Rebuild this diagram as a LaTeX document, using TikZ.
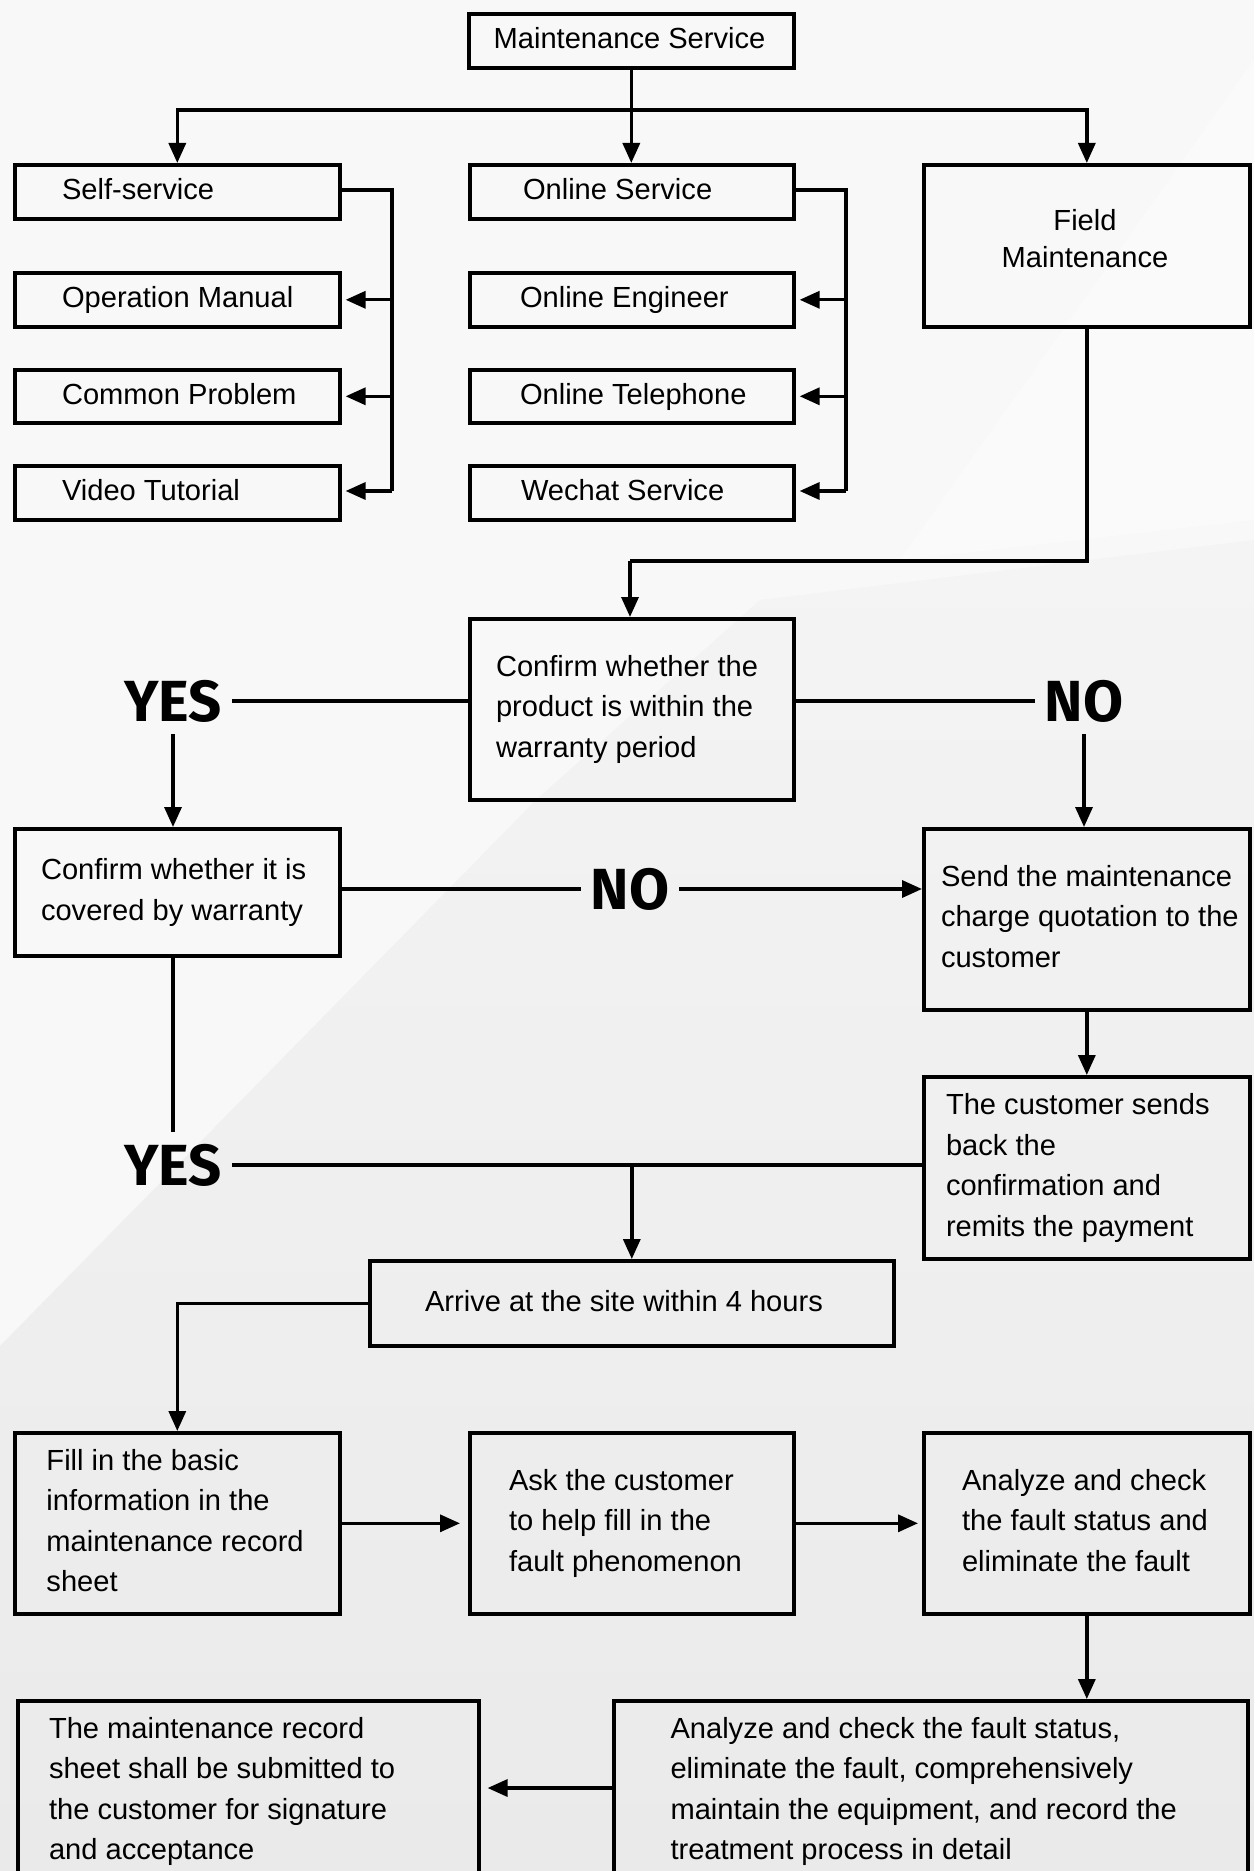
\documentclass[tikz,border=0pt]{standalone}
\usepackage{fontspec}
\setmainfont{Liberation Sans}
\newfontfamily\yesfont{Fira Sans}
\usetikzlibrary{arrows.meta,calc}
\definecolor{bgtop}{HTML}{F8F8F8}
\definecolor{bgmid}{HTML}{F4F4F4}
\definecolor{bgbot}{HTML}{EAEAEA}
\tikzset{
  box/.style={draw=black, line width=1.8pt, rectangle, inner sep=0pt, anchor=north west},
  txt/.style={inner sep=0pt, outer sep=0pt, align=left, font=\fontsize{14.55pt}{20.2pt}\selectfont},
  ftxt/.style={inner sep=0pt, outer sep=0pt, align=center, font=\fontsize{14.55pt}{18.5pt}\selectfont},
  lbl/.style={inner xsep=5pt, inner ysep=6pt, outer sep=0pt, font=\yesfont\bfseries\fontsize{29pt}{30pt}\selectfont},
  conn/.style={line width=1.7pt},
  arr/.style={conn, -{Triangle[length=10pt,width=8.5pt]}},
}
\begin{document}
\begin{tikzpicture}[x=0.5pt,y=-0.5pt]
\clip (0,0) rectangle (1254,1871);
% background
\fill[bgtop] (0,0) rectangle (1254,1871);
\shade[top color=bgmid, bottom color=bgbot] (0,1346) -- (536,800) -- (760,600) -- (1254,540) -- (1254,1871) -- (0,1871) -- cycle;
\fill[white, opacity=0.35] (1254,60) -- (1254,520) -- (900,560) -- cycle;

% boxes
\node[box, minimum width=162.5pt, minimum height=27pt] (ms) at (467,12) {};
\node[box, minimum width=162.5pt, minimum height=27pt] (ss) at (13,163) {};
\node[box, minimum width=162.5pt, minimum height=27pt] (om) at (13,271) {};
\node[box, minimum width=162.5pt, minimum height=26.5pt] (cp) at (13,368) {};
\node[box, minimum width=162.5pt, minimum height=27pt] (vt) at (13,464) {};
\node[box, minimum width=162pt, minimum height=27pt] (os) at (468,163) {};
\node[box, minimum width=162pt, minimum height=27pt] (oe) at (468,271) {};
\node[box, minimum width=162pt, minimum height=26.5pt] (ot) at (468,368) {};
\node[box, minimum width=162pt, minimum height=27pt] (ws) at (468,464) {};
\node[box, minimum width=163pt, minimum height=81pt] (fm) at (922,163) {};
\node[box, minimum width=162pt, minimum height=90.5pt] (cw) at (468,617) {};
\node[box, minimum width=162.5pt, minimum height=63.5pt] (cc) at (13,827) {};
\node[box, minimum width=163pt, minimum height=90.5pt] (sq) at (922,827) {};
\node[box, minimum width=163pt, minimum height=91pt] (cs) at (922,1075) {};
\node[box, minimum width=262pt, minimum height=42.5pt] (ar) at (368,1259) {};
\node[box, minimum width=162.5pt, minimum height=90.5pt] (fi) at (13,1431) {};
\node[box, minimum width=162pt, minimum height=90.5pt] (ask) at (468,1431) {};
\node[box, minimum width=163pt, minimum height=90.5pt] (an) at (922,1431) {};
\node[box, minimum width=230.5pt, minimum height=125pt] (bl) at (16,1699) {};
\node[box, minimum width=317pt, minimum height=125pt] (br) at (612,1699) {};

% texts
\node[txt, anchor=base] (msT) at (629.5,49) {Maintenance Service};
\node[txt, anchor=base west] (ssT) at (62,200) {Self-service};
\node[txt, anchor=base west] (omT) at (62,308) {Operation Manual};
\node[txt, anchor=base west] (cpT) at (62,405) {Common Problem};
\node[txt, anchor=base west] (vtT) at (62,501) {Video Tutorial};
\node[txt, anchor=base west] (osT) at (523,200) {Online Service};
\node[txt, anchor=base west] (oeT) at (520,308) {Online Engineer};
\node[txt, anchor=base west] (otT) at (520,405) {Online Telephone};
\node[txt, anchor=base west] (wsT) at (521,501) {Wechat Service};
\node[ftxt, anchor=north] (fmT) at (1085,204.6) {\strut Field\\Maintenance};
\node[txt, anchor=north west] (cwT) at (496,648.3) {\strut Confirm whether the\\product is within the\\warranty period};
\node[txt, anchor=north west] (ccT) at (41,851.5) {\strut Confirm whether it is\\covered by warranty};
\node[txt, anchor=north west] (sqT) at (941,858.3) {\strut Send the maintenance\\charge quotation to the\\customer};
\node[txt, anchor=north west] (csT) at (946,1086.6) {\strut The customer sends\\back the\\confirmation and\\remits the payment};
\node[txt, anchor=base west] (arT) at (425,1311) {Arrive at the site within 4 hours};
\node[txt, anchor=north west] (fiT) at (46.5,1442.1) {\strut Fill in the basic\\information in the\\maintenance record\\sheet};
\node[txt, anchor=north west] (askT) at (509,1462.3) {\strut Ask the customer\\to help fill in the\\fault phenomenon};
\node[txt, anchor=north west] (anT) at (962,1462.3) {\strut Analyze and check\\the fault status and\\eliminate the fault};
\node[txt, anchor=north west] (blT) at (49,1710.2) {\strut The maintenance record\\sheet shall be submitted to\\the customer for signature\\and acceptance};
\node[txt, anchor=north west] (brT) at (670.5,1710.2) {\strut Analyze and check the fault status,\\eliminate the fault, comprehensively\\maintain the equipment, and record the\\treatment process in detail};

% labels
\node[lbl] (yes1) at (173,701) {YES};
\node[lbl] (no1) at (1084,701) {NO};
\node[lbl] (no2) at (630,889) {NO};
\node[lbl] (yes2) at (173,1165) {YES};

% junction coordinates
\coordinate (j1) at (ms.south |- 0,110);
\coordinate (lb) at (392,190);
\coordinate (lbe) at (392,491);
\coordinate (mb) at (846,190);
\coordinate (mbe) at (846,491);
\coordinate (fj) at (630,561);
\coordinate (bj) at (612,1788);

% connectors
\draw[conn] (ms.south) -- (j1);
\draw[arr] (j1) -| (ss.north);
\draw[arr] (j1) -| (fm.north);
\draw[arr] (j1) -- (j1 |- os.north);

\draw[conn] (ss.east |- lb) -- (lb) -- (lbe);
\draw[arr, shorten >=2pt] (lb |- om.east) -- (om.east);
\draw[arr, shorten >=2pt] (lb |- cp.east) -- (cp.east);
\draw[arr, shorten >=2pt] (lbe) -- (lbe -| vt.east);

\draw[conn] (os.east |- mb) -- (mb) -- (mbe);
\draw[arr, shorten >=2pt] (mb |- oe.east) -- (oe.east);
\draw[arr, shorten >=2pt] (mb |- ot.east) -- (ot.east);
\draw[arr, shorten >=2pt] (mbe) -- (mbe -| ws.east);

\draw[conn] (fm.south) |- (fj);
\draw[arr] (fj) -- (fj |- cw.north);

\draw[conn] (yes1.east) -- (yes1.east -| cw.west);
\draw[conn] (cw.east |- no1.west) -- (no1.west);
\draw[arr] (yes1.south) -- (yes1.south |- cc.north);
\draw[arr] (no1.south) -- (no1.south |- sq.north);

\draw[conn] (cc.east |- no2.west) -- (no2.west);
\draw[arr] (no2.east) -- (no2.east -| sq.west);

\draw[conn] (yes2.north |- cc.south) -- (yes2.north);
\draw[conn] (yes2.east) -- (yes2.east -| cs.west);
\draw[arr] (yes2.east -| ar.north) -- (ar.north);
\draw[arr] (sq.south) -- (cs.north);

\draw[arr] (ar.west) -| (fi.north);
\draw[arr, shorten >=4pt] (fi.east) -- (ask.west);
\draw[arr, shorten >=2pt] (ask.east) -- (an.west);
\draw[arr] (an.south) -- (an.south |- br.north);
\draw[arr, shorten >=3.5pt] (bj) -- (bj -| bl.east);
\end{tikzpicture}
\end{document}
